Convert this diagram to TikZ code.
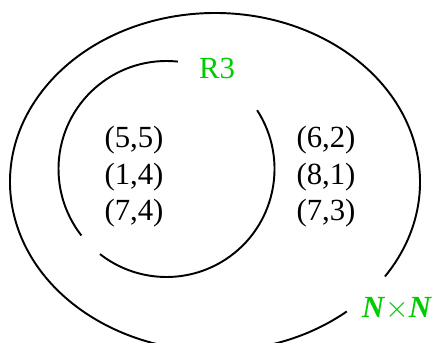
\documentclass[tikz,border=0pt]{standalone}
\usepackage{fontspec}
\setmainfont{Liberation Serif}
\usepackage{xcolor}
\usetikzlibrary{positioning}
\definecolor{setgreen}{RGB}{0,204,0}
\tikzstyle{setline} = [draw, line width=1.1pt]
\tikzstyle{pair} = [font=\fontsize{17.5}{21}\selectfont, inner sep=0pt]
\tikzstyle{setname} = [font=\fontsize{17.5}{21}\selectfont, text=setgreen, inner sep=0pt]

\begin{document}
\begin{tikzpicture}[x=0.02cm, y=0.02cm]
    \useasboundingbox (0,0) rectangle (433,342);
    % outer set N x N, with a gap for its name
    \draw [setline] (215,160) ++(-34:205 and 169) arc [start angle=-34, end angle=310, x radius=205, y radius=169];
    % inner set R3, two arcs
    \draw [setline] (166.5,173) ++(33:108) arc [start angle=33, end angle=-128, radius=108];
    \draw [setline] (166.5,173) ++(84:108) arc [start angle=84, end angle=218, radius=108];

    \node (r3) [setname] at (217,274) {R3};
    \node (nxn) [setname] at (397,33) {\textbf{\textit{N}}$\times$\textbf{\textit{N}}};

    \node (p55) [pair] at (134,202) {(5,5)};
    \node (p14) [pair] at (134,165) {(1,4)};
    \node (p74) [pair] at (134,129) {(7,4)};
    \node (p62) [pair] at (326,202) {(6,2)};
    \node (p81) [pair] at (326,165) {(8,1)};
    \node (p73) [pair] at (326,129) {(7,3)};
\end{tikzpicture}
\end{document}
